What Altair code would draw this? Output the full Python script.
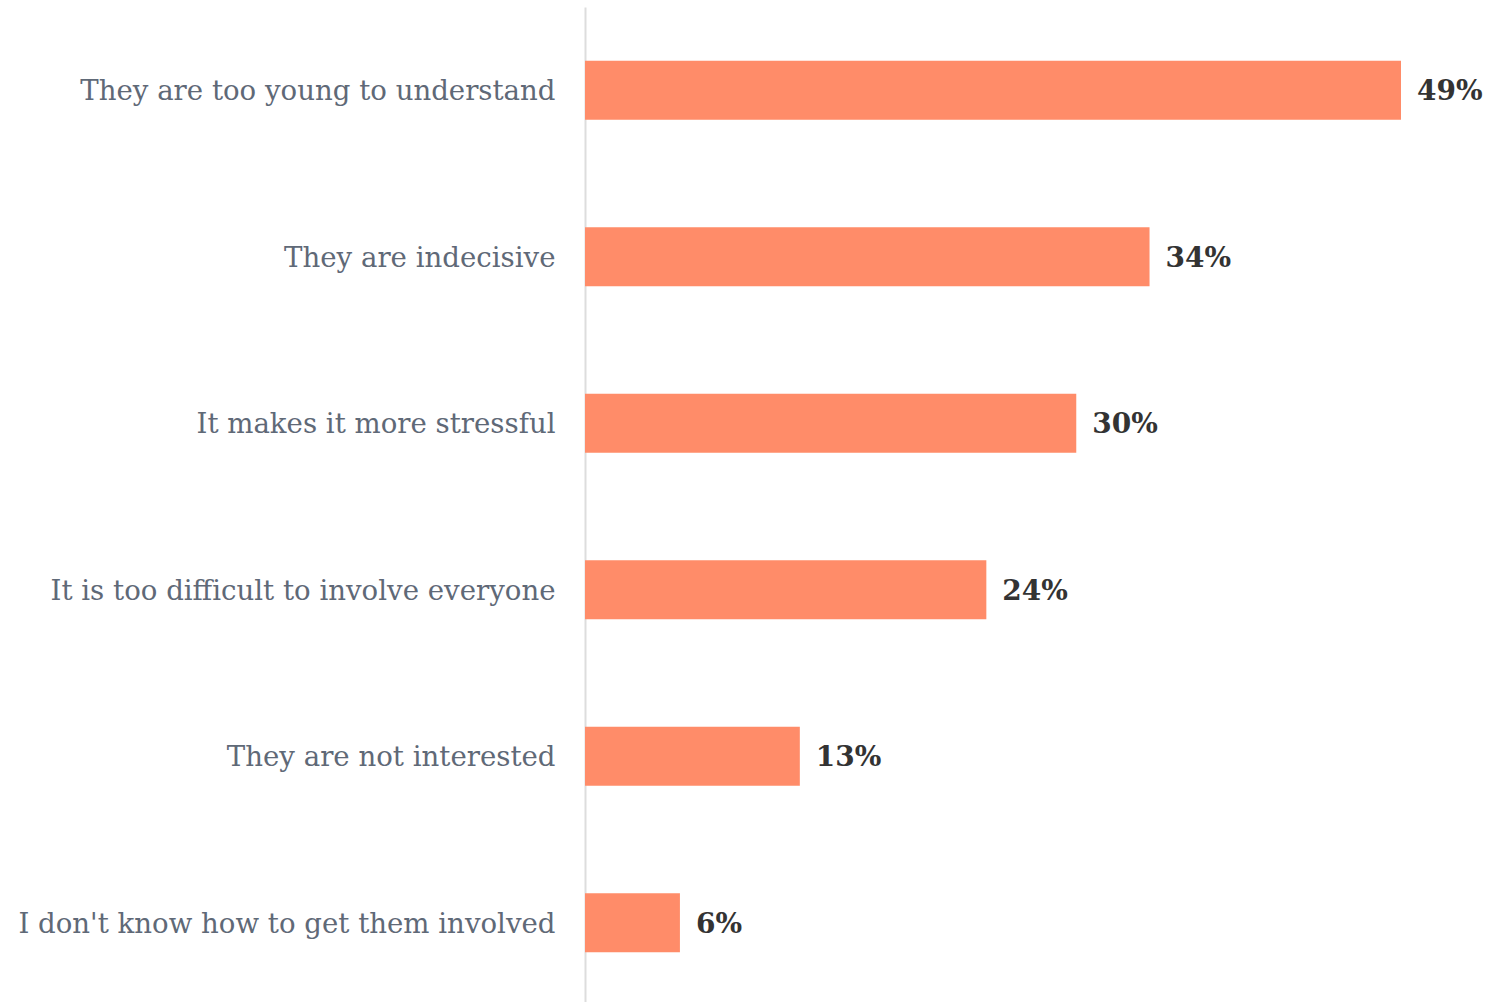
import altair as alt
import pandas as pd

categories = [
    "They are too young to understand",
    "They are indecisive",
    "It makes it more stressful",
    "It is too difficult to involve everyone",
    "They are not interested",
    "I don't know how to get them involved",
]
values = [49.0, 33.9, 29.5, 24.1, 12.9, 5.7]
value_labels = ["49%", "34%", "30%", "24%", "13%", "6%"]

df = pd.DataFrame({"reason": categories, "value": values, "label": value_labels})

FONT = "DejaVu Serif"

y_enc = alt.Y(
    "reason:N",
    sort=categories,
    scale=alt.Scale(paddingInner=0.645, paddingOuter=0.3225),
    axis=alt.Axis(
        title=None,
        ticks=False,
        labelFont=FONT,
        labelFontSize=27.6,
        labelColor="#5f6977",
        labelPadding=30,
        labelOffset=2,
        labelLimit=700,
        domainColor="#dddddd",
        domainWidth=2,
    ),
)
x_enc = alt.X(
    "value:Q",
    scale=alt.Scale(domain=[0, 49], nice=False),
    axis=None,
)

bars = alt.Chart(df).mark_bar(color="#ff8c69").encode(y=y_enc, x=x_enc)
text = alt.Chart(df).mark_text(
    align="left", baseline="middle", dx=16, dy=2,
    font=FONT, fontSize=28, fontWeight="bold", color="#333333"
).encode(y=alt.Y("reason:N", sort=categories), x="value:Q", text="label:N")

chart = (
    alt.layer(bars, text)
    .properties(
        width=816,
        height=999,
        background="white",
        autosize=alt.AutoSizeParams(type="none"),
        padding={"left": 585, "top": 7, "right": 109, "bottom": 0},
    )
    .configure_view(stroke=None, strokeWidth=0)
)

chart.save("out.html", embed_options={"renderer": "svg", "actions": False})
